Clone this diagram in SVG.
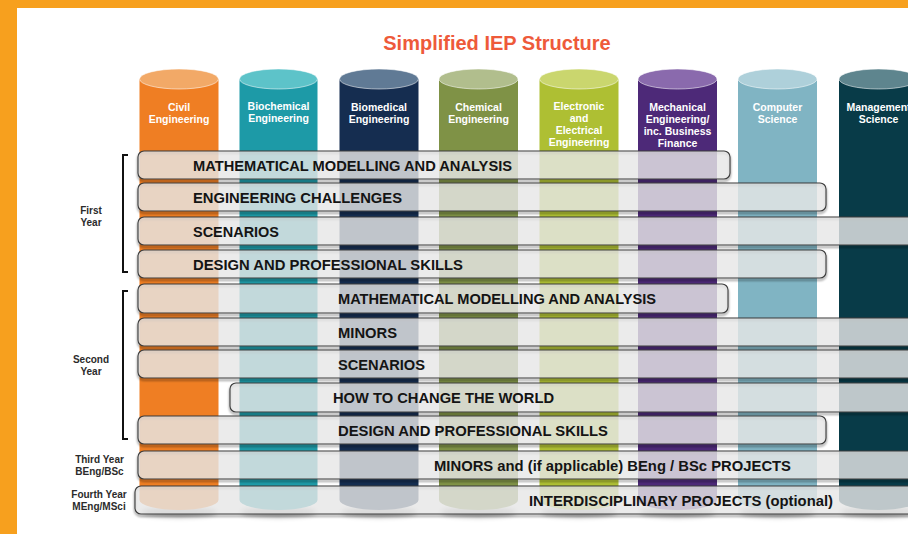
<svg xmlns="http://www.w3.org/2000/svg" width="908" height="534" viewBox="0 0 908 534">
<defs>
<style>
.cyl-t{font-family:"Liberation Sans",Arial,sans-serif;font-weight:bold;font-size:10.5px;fill:#ffffff;text-anchor:middle}
.cap{stroke:#ffffff;stroke-opacity:0.55;stroke-width:1}
.bbox{fill:#E7E7E7;fill-opacity:0.82;stroke:#3c3c3c;stroke-width:1.1}
.bsh{fill:none;stroke:#000;stroke-opacity:0.35;stroke-width:2.2;filter:url(#blur1)}
.btxt{font-family:"Liberation Sans",Arial,sans-serif;font-weight:bold;font-size:15.5px;fill:#141414}
.lbl{font-family:"Liberation Sans",Arial,sans-serif;font-weight:bold;font-size:10px;fill:#2b2b2b;text-anchor:middle}
.brk{fill:none;stroke:#111;stroke-width:2}
.csh{fill:#000;fill-opacity:0.35;filter:url(#blur2)}
</style>
<filter id="blur1" x="-5%" y="-20%" width="110%" height="140%"><feGaussianBlur stdDeviation="0.9"/></filter>
<filter id="blur2" x="-20%" y="-100%" width="140%" height="300%"><feGaussianBlur stdDeviation="2.5"/></filter>
</defs>
<rect x="0" y="0" width="908" height="534" fill="#ffffff"/>
<rect x="0" y="0" width="908" height="8" fill="#F7A01E"/>
<rect x="0" y="0" width="17" height="534" fill="#F7A01E"/>
<text x="497" y="50" font-family="Liberation Sans,Arial,sans-serif" font-weight="bold" font-size="20" fill="#EE5A3A" text-anchor="middle">Simplified IEP Structure</text>

<g id="cylinders">
<g id="cyl-civil">
<ellipse class="csh" cx="179" cy="512" rx="38" ry="5"/>
<path d="M139.5,79 V500 A39.5,10 0 0 0 218.5,500 V79 Z" fill="#EF7E23"/>
<ellipse class="cap" cx="179" cy="79" rx="39.5" ry="10" fill="#F2A967"/>
<text class="cyl-t" x="179" y="111">Civil</text><text class="cyl-t" x="179" y="123">Engineering</text>
</g>
<g id="cyl-biochemical">
<ellipse class="csh" cx="278.5" cy="512" rx="38" ry="5"/>
<path d="M239.5,79 V500 A39,10 0 0 0 317.5,500 V79 Z" fill="#1D9AA7"/>
<ellipse class="cap" cx="278.5" cy="79" rx="39" ry="10" fill="#5DC3C9"/>
<text class="cyl-t" x="278.5" y="110">Biochemical</text><text class="cyl-t" x="278.5" y="122">Engineering</text>
</g>
<g id="cyl-biomedical">
<ellipse class="csh" cx="379" cy="512" rx="38" ry="5"/>
<path d="M339.5,79 V500 A39.5,10 0 0 0 418.5,500 V79 Z" fill="#152D50"/>
<ellipse class="cap" cx="379" cy="79" rx="39.5" ry="10" fill="#607A95"/>
<text class="cyl-t" x="379" y="111">Biomedical</text><text class="cyl-t" x="379" y="123">Engineering</text>
</g>
<g id="cyl-chemical">
<ellipse class="csh" cx="478.5" cy="512" rx="38" ry="5"/>
<path d="M439,79 V500 A39.5,10 0 0 0 518,500 V79 Z" fill="#7F9246"/>
<ellipse class="cap" cx="478.5" cy="79" rx="39.5" ry="10" fill="#B1BE8D"/>
<text class="cyl-t" x="478.5" y="111">Chemical</text><text class="cyl-t" x="478.5" y="123">Engineering</text>
</g>
<g id="cyl-electronic">
<ellipse class="csh" cx="579" cy="512" rx="38" ry="5"/>
<path d="M539.5,79 V500 A39.5,10 0 0 0 618.5,500 V79 Z" fill="#AEBF33"/>
<ellipse class="cap" cx="579" cy="79" rx="39.5" ry="10" fill="#CAD66E"/>
<text class="cyl-t" x="579" y="110">Electronic</text><text class="cyl-t" x="579" y="122">and</text><text class="cyl-t" x="579" y="134">Electrical</text><text class="cyl-t" x="579" y="146">Engineering</text>
</g>
<g id="cyl-mechanical">
<ellipse class="csh" cx="677.5" cy="512" rx="38" ry="5"/>
<path d="M638,79 V500 A39.5,10 0 0 0 717,500 V79 Z" fill="#4D2978"/>
<ellipse class="cap" cx="677.5" cy="79" rx="39.5" ry="10" fill="#8A6AAD"/>
<text class="cyl-t" x="677.5" y="111">Mechanical</text><text class="cyl-t" x="677.5" y="123">Engineering/</text><text class="cyl-t" x="677.5" y="135">inc. Business</text><text class="cyl-t" x="677.5" y="147">Finance</text>
</g>
<g id="cyl-computer">
<ellipse class="csh" cx="777.5" cy="512" rx="38" ry="5"/>
<path d="M738,79 V500 A39.5,10 0 0 0 817,500 V79 Z" fill="#80B4C3"/>
<ellipse class="cap" cx="777.5" cy="79" rx="39.5" ry="10" fill="#AED0DA"/>
<text class="cyl-t" x="777.5" y="111">Computer</text><text class="cyl-t" x="777.5" y="123">Science</text>
</g>
<g id="cyl-management">
<ellipse class="csh" cx="878.5" cy="512" rx="38" ry="5"/>
<path d="M839,79 V500 A39.5,10 0 0 0 918,500 V79 Z" fill="#083B48"/>
<ellipse class="cap" cx="878.5" cy="79" rx="39.5" ry="10" fill="#5E858E"/>
<text class="cyl-t" x="878.5" y="111">Management</text><text class="cyl-t" x="878.5" y="123">Science</text>
</g>
</g>

<g id="bands">
<g id="y1-math">
<rect class="bsh" x="138" y="153" width="592" height="28" rx="6"/>
<rect class="bbox" x="138" y="151" width="592" height="28" rx="6"/>
<text class="btxt" x="193" y="170.5" textLength="319" lengthAdjust="spacingAndGlyphs">MATHEMATICAL MODELLING AND ANALYSIS</text>
</g>
<g id="y1-challenges">
<rect class="bsh" x="138" y="185" width="688" height="28" rx="6"/>
<rect class="bbox" x="138" y="183" width="688" height="28" rx="6"/>
<text class="btxt" x="193" y="203" textLength="209" lengthAdjust="spacingAndGlyphs">ENGINEERING CHALLENGES</text>
</g>
<g id="y1-scenarios">
<rect class="bsh" x="138" y="219" width="800" height="28" rx="6"/>
<rect class="bbox" x="138" y="217" width="800" height="28" rx="6"/>
<text class="btxt" x="193" y="236.5" textLength="86" lengthAdjust="spacingAndGlyphs">SCENARIOS</text>
</g>
<g id="y1-design">
<rect class="bsh" x="138" y="252" width="688" height="28" rx="6"/>
<rect class="bbox" x="138" y="250" width="688" height="28" rx="6"/>
<text class="btxt" x="193" y="269.5" textLength="270" lengthAdjust="spacingAndGlyphs">DESIGN AND PROFESSIONAL SKILLS</text>
</g>
<g id="y2-math">
<rect class="bsh" x="138" y="286" width="590" height="29" rx="6"/>
<rect class="bbox" x="138" y="284" width="590" height="29" rx="6"/>
<text class="btxt" x="338" y="304" textLength="318" lengthAdjust="spacingAndGlyphs">MATHEMATICAL MODELLING AND ANALYSIS</text>
</g>
<g id="y2-minors">
<rect class="bsh" x="138" y="320" width="800" height="28" rx="6"/>
<rect class="bbox" x="138" y="318" width="800" height="28" rx="6"/>
<text class="btxt" x="338" y="337.5" textLength="59" lengthAdjust="spacingAndGlyphs">MINORS</text>
</g>
<g id="y2-scenarios">
<rect class="bsh" x="138" y="352" width="800" height="28" rx="6"/>
<rect class="bbox" x="138" y="350" width="800" height="28" rx="6"/>
<text class="btxt" x="338" y="369.5" textLength="87" lengthAdjust="spacingAndGlyphs">SCENARIOS</text>
</g>
<g id="y2-world">
<rect class="bsh" x="230" y="385" width="708" height="29" rx="6"/>
<rect class="bbox" x="230" y="383" width="708" height="29" rx="6"/>
<text class="btxt" x="333" y="403" textLength="221" lengthAdjust="spacingAndGlyphs">HOW TO CHANGE THE WORLD</text>
</g>
<g id="y2-design">
<rect class="bsh" x="138" y="418" width="688" height="28" rx="6"/>
<rect class="bbox" x="138" y="416" width="688" height="28" rx="6"/>
<text class="btxt" x="338" y="435.5" textLength="270" lengthAdjust="spacingAndGlyphs">DESIGN AND PROFESSIONAL SKILLS</text>
</g>
<g id="y3-projects">
<rect class="bsh" x="138" y="453" width="800" height="28" rx="6"/>
<rect class="bbox" x="138" y="451" width="800" height="28" rx="6"/>
<text class="btxt" x="434" y="470.5" textLength="357" lengthAdjust="spacingAndGlyphs">MINORS and (if applicable) BEng / BSc PROJECTS</text>
</g>
<g id="y4-projects">
<rect class="bsh" x="135" y="488" width="803" height="28" rx="6"/>
<rect class="bbox" x="135" y="486" width="803" height="28" rx="6"/>
<text class="btxt" x="529" y="506" textLength="304" lengthAdjust="spacingAndGlyphs">INTERDISCIPLINARY PROJECTS (optional)</text>
</g>
</g>

<g id="brackets">
<path class="brk" d="M128,155 H123 V272 H128"/>
<path class="brk" d="M128,291 H123 V439 H128"/>
</g>

<g id="year-labels">
<g id="lbl-first"><text class="lbl" x="91" y="214">First</text><text class="lbl" x="91" y="226">Year</text></g>
<g id="lbl-second"><text class="lbl" x="91" y="363">Second</text><text class="lbl" x="91" y="375">Year</text></g>
<g id="lbl-third"><text class="lbl" x="99.5" y="463">Third Year</text><text class="lbl" x="99.5" y="475">BEng/BSc</text></g>
<g id="lbl-fourth"><text class="lbl" x="99" y="498">Fourth Year</text><text class="lbl" x="99" y="510">MEng/MSci</text></g>
</g>
</svg>
